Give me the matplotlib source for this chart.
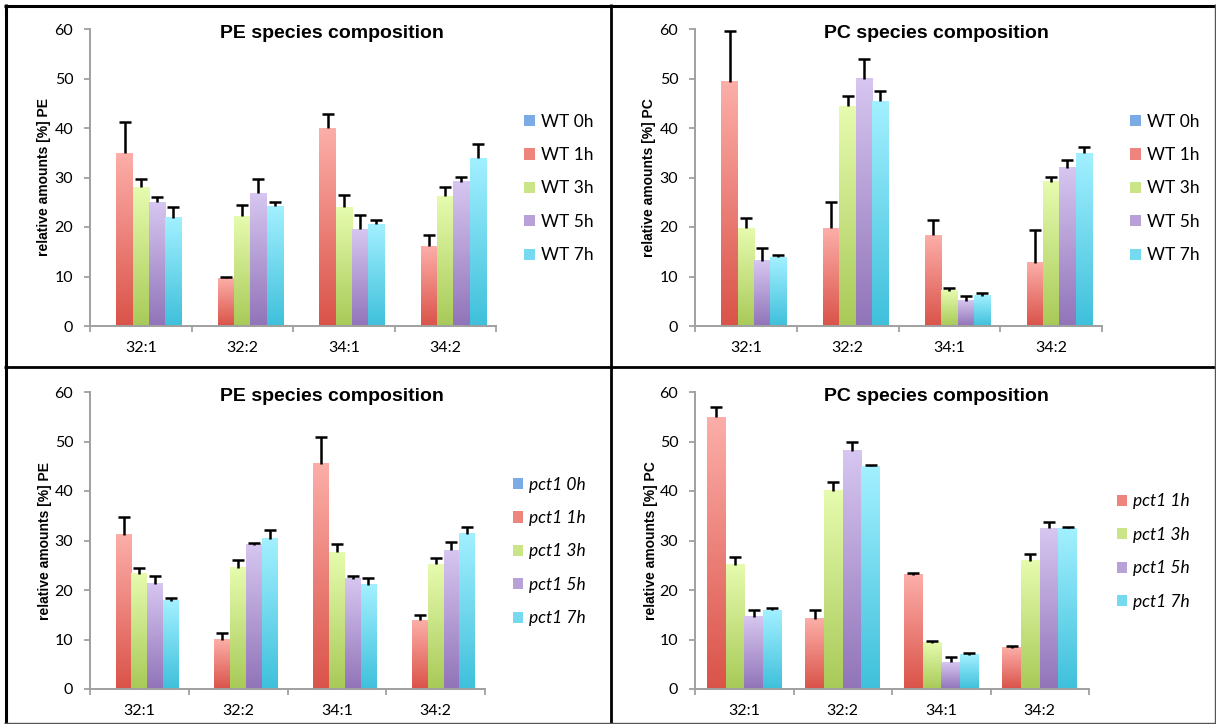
import numpy as np
import matplotlib
matplotlib.use('Agg')
import matplotlib.pyplot as plt
from matplotlib.colors import LinearSegmentedColormap
from matplotlib.patches import Patch
from matplotlib.lines import Line2D

plt.rcParams['font.family'] = ['Lato', 'DejaVu Sans']

# --- dane ---
CATEGORIES = ['32:1', '32:2', '34:1', '34:2']
WT_LABELS = ['WT 0h', 'WT 1h', 'WT 3h', 'WT 5h', 'WT 7h']
PCT_LABELS = ['pct1 0h', 'pct1 1h', 'pct1 3h', 'pct1 5h', 'pct1 7h']
PCT_PC_LABELS = ['pct1 1h', 'pct1 3h', 'pct1 5h', 'pct1 7h']

# wiersze: 0h, 1h, 3h, 5h, 7h
PE_WT_MEAN = [[0, 0, 0, 0],
              [34.9, 9.6, 39.9, 16.1],
              [28.0, 22.2, 24.0, 26.2],
              [25.0, 26.8, 19.5, 29.1],
              [21.9, 24.2, 20.6, 33.9]]
PE_WT_ERR = [[0, 0, 0, 0],
             [6.4, 0.2, 2.9, 2.3],
             [1.6, 2.2, 2.5, 1.8],
             [1.0, 2.8, 2.9, 1.0],
             [2.1, 0.8, 0.8, 2.8]]

PC_WT_MEAN = [[0, 0, 0, 0],
              [49.3, 19.7, 18.3, 12.8],
              [19.7, 44.4, 7.1, 29.1],
              [13.2, 50.0, 5.1, 32.0],
              [13.9, 45.4, 6.1, 34.9]]
PC_WT_ERR = [[0, 0, 0, 0],
             [10.3, 5.3, 3.1, 6.6],
             [2.2, 2.0, 0.6, 1.0],
             [2.6, 4.0, 1.0, 1.6],
             [0.4, 2.1, 0.5, 1.2]]

PE_PCT_MEAN = [[0, 0, 0, 0],
               [31.2, 10.0, 45.5, 13.9],
               [23.3, 24.5, 27.6, 25.2],
               [21.3, 29.1, 22.3, 28.0],
               [17.8, 30.4, 21.1, 31.4]]
PE_PCT_ERR = [[0, 0, 0, 0],
              [3.6, 1.4, 5.5, 1.0],
              [1.2, 1.5, 1.6, 1.3],
              [1.6, 0.4, 0.5, 1.6],
              [0.6, 1.8, 1.4, 1.4]]

# wiersze: 1h, 3h, 5h, 7h
PC_PCT_MEAN = [[54.9, 14.2, 23.1, 8.3],
               [25.1, 40.1, 9.3, 25.9],
               [14.6, 48.1, 5.4, 32.5],
               [15.9, 45.0, 6.9, 32.5]]
PC_PCT_ERR = [[2.1, 1.7, 0.4, 0.4],
              [1.5, 1.7, 0.4, 1.3],
              [1.3, 1.9, 1.0, 1.2],
              [0.5, 0.3, 0.4, 0.3]]

# gradienty (dół, góra) dla kolejnych punktów czasowych
GRAD_0H = ('#4A88D3', '#A2C8F4')
GRAD_1H = ('#DA5349', '#FCAEA8')
GRAD_3H = ('#A8CA58', '#E6FBAE')
GRAD_5H = ('#9174B9', '#D6C6F0')
GRAD_7H = ('#3FC0DB', '#A2F0FF')
GRADS_5 = [GRAD_0H, GRAD_1H, GRAD_3H, GRAD_5H, GRAD_7H]
GRADS_4 = [GRAD_1H, GRAD_3H, GRAD_5H, GRAD_7H]

W, H = 1216, 724
GRAD = np.linspace(0, 1, 128).reshape(-1, 1)


def draw_panel(rect, means, errs, grads, labels, ylabel, group_frac, italic):
    ax = fig.add_axes(rect)
    n = len(means)
    x = np.arange(len(CATEGORIES))
    w = group_frac / n
    handles = []
    for i in range(n):
        pos = x - group_frac / 2 + w * (i + 0.5)
        cmap = LinearSegmentedColormap.from_list('g%d' % i, grads[i])
        bars = ax.bar(pos, means[i], width=w, color=cmap(0.45), zorder=2, linewidth=0)
        for r in bars:
            if r.get_height() <= 0:
                continue
            ax.imshow(GRAD, extent=[r.get_x(), r.get_x() + r.get_width(), 0, r.get_height()],
                      origin='lower', aspect='auto', cmap=cmap, zorder=2.5)
        if any(v > 0 for v in means[i]):
            eb = ax.errorbar(pos, means[i], yerr=[np.zeros(len(x)), errs[i]], fmt='none',
                             ecolor='black', elinewidth=1.8, capsize=4.5, capthick=1.8, zorder=3)
            # tylko górna "czapka" jak w Excelu
            eb[1][0].set_visible(False)
        handles.append(Patch(facecolor=cmap(0.55), edgecolor='none'))

    ax.set_xlim(-0.5, len(CATEGORIES) - 0.5)
    ax.set_ylim(0, 60)
    ax.set_yticks(range(0, 61, 10))
    ax.set_xticks(np.arange(len(CATEGORIES) + 1) - 0.5)
    ax.set_xticklabels([])
    ax.set_xticks(x, minor=True)
    ax.set_xticklabels(CATEGORIES, minor=True)
    ax.tick_params(axis='x', which='major', length=4, width=1.3, color='#A0A0A0')
    ax.tick_params(axis='x', which='minor', length=0, pad=11, labelsize=11.5)
    ax.tick_params(axis='y', length=4, width=1.3, color='#A0A0A0', pad=8, labelsize=11.5)
    for s in ['top', 'right']:
        ax.spines[s].set_visible(False)
    for s in ['left', 'bottom']:
        ax.spines[s].set_color('#A0A0A0')
        ax.spines[s].set_linewidth(1.4)

    ax.set_ylabel(ylabel, fontsize=10, fontweight='bold', family=['Liberation Sans', 'DejaVu Sans'])
    ax.yaxis.set_label_coords(-0.095, 0.5)

    ax.legend(handles, labels, loc='center left', bbox_to_anchor=(1.07, 0.463),
              frameon=False, handlelength=0.6, handleheight=0.6, handletextpad=0.35,
              labelspacing=1.0, borderpad=0, borderaxespad=0,
              prop={'size': 12.5, 'style': 'italic' if italic else 'normal'})
    return ax


fig = plt.figure(figsize=(W / 100, H / 100), dpi=100)

draw_panel([90 / W, 1 - 326 / H, 406 / W, 297 / H], PE_WT_MEAN, PE_WT_ERR, GRADS_5,
           WT_LABELS, 'relative amounts [%] PE', 0.8, False)
draw_panel([695 / W, 1 - 326 / H, 407 / W, 297 / H], PC_WT_MEAN, PC_WT_ERR, GRADS_5,
           WT_LABELS, 'relative amounts [%] PC', 0.8, False)
draw_panel([90 / W, 1 - 689 / H, 395 / W, 297 / H], PE_PCT_MEAN, PE_PCT_ERR, GRADS_5,
           PCT_LABELS, 'relative amounts [%] PE', 0.8, True)
draw_panel([695 / W, 1 - 689 / H, 394 / W, 297 / H], PC_PCT_MEAN, PC_PCT_ERR, GRADS_4,
           PCT_PC_LABELS, 'relative amounts [%] PC', 0.76, True)

title_kw = dict(ha='center', va='center', fontsize=14, fontweight='bold',
                family=['Liberation Sans', 'DejaVu Sans'])
fig.text(332 / W, 1 - 33 / H, 'PE species composition', **title_kw)
fig.text(936 / W, 1 - 33 / H, 'PC species composition', **title_kw)
fig.text(332 / W, 1 - 396 / H, 'PE species composition', **title_kw)
fig.text(936 / W, 1 - 396 / H, 'PC species composition', **title_kw)

# ramki paneli
def fline(xs, ys, lw, color='black'):
    fig.add_artist(Line2D([v / W for v in xs], [1 - v / H for v in ys], lw=lw, color=color,
                          solid_capstyle='butt'))

fline([4, 1216], [5.5, 5.5], 2.2)
fline([5.5, 5.5], [4, 724], 2.2)
fline([611, 611], [4, 724], 2.0)
fline([4, 1216], [367, 367], 2.0)
fline([1214.5, 1214.5], [4, 724], 1.0, '#555555')
fline([4, 1216], [722.5, 722.5], 1.0, '#555555')

fig.savefig('out.png', dpi=100)
